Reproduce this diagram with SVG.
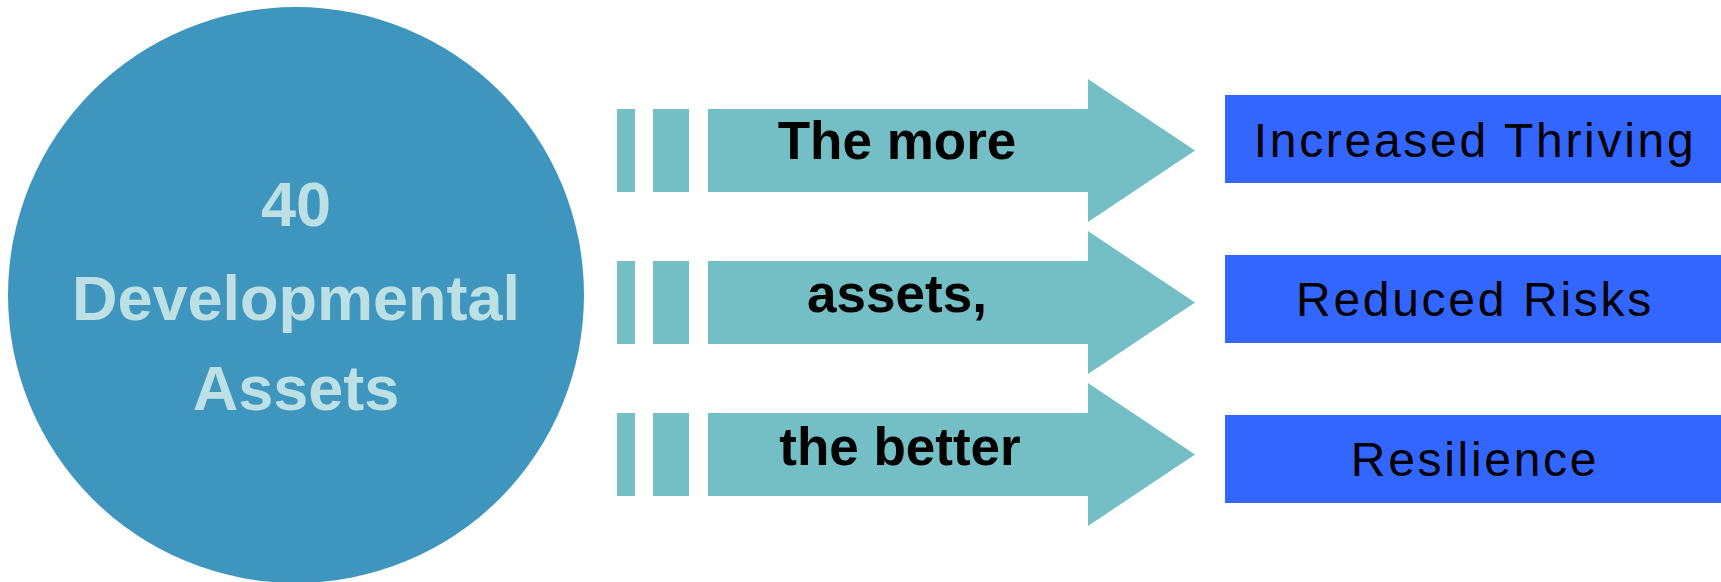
<svg xmlns="http://www.w3.org/2000/svg" width="1721" height="582" viewBox="0 0 1721 582">
<style>
.ar{fill:#73BFC5}
.lbl{font-family:"Liberation Sans",Arial,sans-serif;font-weight:bold;font-size:53px;fill:#000;text-anchor:middle}
.box{fill:#3366FF}
.bt{font-family:"Liberation Sans",Arial,sans-serif;font-size:48px;fill:#000;text-anchor:middle;letter-spacing:2.7px}
.ct{font-family:"Liberation Sans",Arial,sans-serif;font-weight:bold;font-size:63px;fill:#BCE0E3;text-anchor:middle}
</style>
<defs>
<g id="arrowShape">
<rect x="617" y="0" width="18" height="83"/>
<rect x="653" y="0" width="36" height="83"/>
<polygon points="708,0 1088,0 1088,-30 1195,41.5 1088,113 1088,83 708,83"/>
</g>
</defs>
<g id="circle">
<ellipse cx="296" cy="295" rx="288" ry="288" fill="#3E96BE"/>
<text class="ct" x="296" y="226">40</text>
<text class="ct" x="296" y="320">Developmental</text>
<text class="ct" x="296" y="410">Assets</text>
</g>
<g id="connectors">
<use href="#arrowShape" class="ar" transform="translate(0,109)"/>
<use href="#arrowShape" class="ar" transform="translate(0,261)"/>
<use href="#arrowShape" class="ar" transform="translate(0,413)"/>
<text class="lbl" x="897" y="159">The more</text>
<text class="lbl" x="897" y="312">assets,</text>
<text class="lbl" x="900" y="465">the better</text>
</g>
<g id="thriving">
<rect class="box" x="1225" y="95" width="496" height="88"/>
<text class="bt" x="1475" y="157">Increased Thriving</text>
</g>
<g id="risks">
<rect class="box" x="1225" y="255" width="496" height="88"/>
<text class="bt" x="1475" y="316">Reduced Risks</text>
</g>
<g id="resilience">
<rect class="box" x="1225" y="415" width="496" height="88"/>
<text class="bt" x="1475" y="476">Resilience</text>
</g>
</svg>
